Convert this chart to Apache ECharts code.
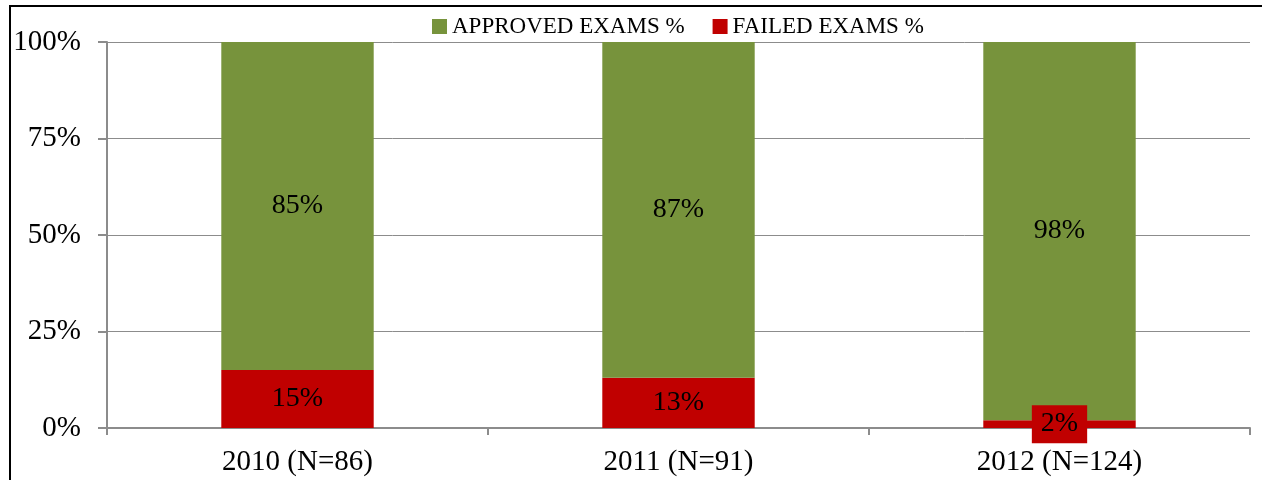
<!DOCTYPE html>
<html>
<head>
<meta charset="utf-8">
<script src="https://cdn.jsdelivr.net/npm/echarts@6/dist/echarts.min.js"></script>
<style>
  html, body { margin: 0; padding: 0; background: #fff; }
  #chart { width: 1262px; height: 480px; }
</style>
</head>
<body>
<div id="chart"></div>
<script>
var years = ['2010 (N=86)', '2011 (N=91)', '2012 (N=124)'];
var approved = [85, 87, 98];
var failed = [15, 13, 2];
var yTicks = [0, 25, 50, 75, 100];

var font = 'Liberation Serif';
var chart = echarts.init(document.getElementById('chart'));

chart.setOption({
  animation: false,
  textStyle: { fontFamily: font },
  // frame of the original chart box (left + top edges visible)
  graphic: [{
    type: 'rect',
    shape: { x: 10, y: 6, width: 1300, height: 520 },
    style: { fill: 'none', stroke: '#000', lineWidth: 2 },
    silent: true
  }],
  legend: {
    top: 10,
    left: 427,
    itemWidth: 15,
    itemHeight: 15,
    itemGap: 28,
    icon: 'rect',
    textStyle: { fontFamily: font, fontSize: 23, color: '#000' },
    data: ['APPROVED EXAMS %', 'FAILED EXAMS %']
  },
  grid: { left: 107, right: 12, top: 42, bottom: 52 },
  xAxis: {
    type: 'category',
    data: years,
    axisLine: { lineStyle: { color: '#8c8c8c', width: 2 } },
    axisTick: { show: true, length: 7, lineStyle: { color: '#8c8c8c', width: 2 } },
    axisLabel: { fontFamily: font, fontSize: 29, color: '#000', margin: 20 }
  },
  yAxis: {
    type: 'value',
    min: 0,
    max: 100,
    interval: 25,
    axisLine: { show: true, lineStyle: { color: '#8c8c8c', width: 2 } },
    axisTick: { show: true, length: 9, lineStyle: { color: '#8c8c8c', width: 2 } },
    splitLine: { lineStyle: { color: '#8c8c8c', width: 1 } },
    axisLabel: {
      fontFamily: font, fontSize: 29, color: '#000', margin: 26,
      formatter: function (v) { return yTicks.indexOf(v) >= 0 ? v + '%' : ''; }
    }
  },
  series: [
    {
      name: 'FAILED EXAMS %',
      type: 'bar',
      stack: 'total',
      barWidth: '40%',
      data: failed,
      itemStyle: { color: '#C00000' },
      label: {
        show: true,
        position: 'inside',
        formatter: '{c}%',
        fontFamily: font, fontSize: 28, color: '#000',
        backgroundColor: '#C00000',
        padding: [5, 9, 5, 9]
      }
    },
    {
      name: 'APPROVED EXAMS %',
      type: 'bar',
      stack: 'total',
      barWidth: '40%',
      data: approved,
      itemStyle: { color: '#77933C' },
      label: {
        show: true,
        position: 'inside',
        formatter: '{c}%',
        fontFamily: font, fontSize: 28, color: '#000'
      }
    }
  ]
});
</script>
</body>
</html>
